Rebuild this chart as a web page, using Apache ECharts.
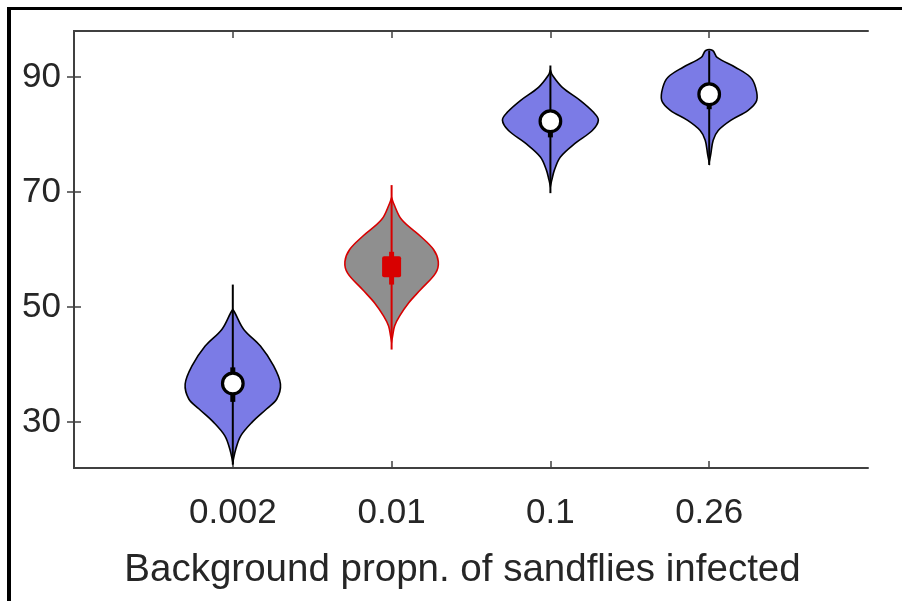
<!DOCTYPE html>
<html><head><meta charset="utf-8">
<script src="https://cdn.jsdelivr.net/npm/echarts@6/dist/echarts.min.js"></script>
<style>html,body{margin:0;padding:0;background:#fff}#c{width:902px;height:601px}</style>
</head><body><div id="c"></div>
<script>
// ---- data ----
const categories = ['0.002', '0.01', '0.1', '0.26'];
const yTickValues = [30, 50, 70, 90];
const medians = [36.7, 57.0, 82.3, 87.0];
const q1 = [33.5, 53.9, 79.5, 84.4];
const q3 = [39.5, 59.6, 83.9, 88.7];
const lowerWhisker = [22.6, 42.6, 69.8, 74.7];
const upperWhisker = [53.9, 71.2, 92.0, 94.6];
// density profiles: [value, half-width in category units]
const density0002 = [[49.6,0],[49.0,0.013],[46.1,0.069],[43.2,0.174],[39.7,0.258],[36.6,0.300],[34.0,0.277],[32.3,0.214],[29.9,0.119],[27.6,0.050],[25.3,0.019],[23.0,0]];
const density001 = [[69.0,0],[68.0,0.013],[65.2,0.063],[62.3,0.182],[60.0,0.264],[57.9,0.294],[55.9,0.277],[53.0,0.182],[50.7,0.107],[48.4,0.050],[46.7,0.019],[44.9,0.006],[44.0,0]];
const density01 = [[91.2,0],[90.3,0.013],[88.2,0.075],[85.9,0.189],[83.9,0.270],[82.5,0.302],[80.7,0.264],[78.5,0.157],[76.1,0.063],[73.8,0.025],[72.1,0.009],[71.0,0]];
const density026 = [[94.6,0.022],[93.4,0.050],[91.7,0.164],[90.0,0.258],[88.2,0.292],[85.9,0.299],[84.2,0.245],[82.5,0.138],[80.7,0.057],[79.0,0.025],[76.4,0.009],[75.2,0]];
const densities = [density0002, density001, density01, density026];
const highlighted = 1; // the red/grey violin

// ---- styles ----
const blueFill = '#7b7be6', greyFill = '#8f8f8f', red = '#d80000', dark = '#000';
const axisColor = '#404040';
const textColor = '#262626';
const fontFamily = 'Liberation Sans, Arial, sans-serif';

const chart = echarts.init(document.getElementById('c'));

function renderViolin(params, api) {
  const i = params.dataIndex;
  const x = api.value(0);
  const prof = densities[i];
  const right = prof.map(p => api.coord([x + p[1], p[0]]));
  const left = prof.slice().reverse().map(p => api.coord([x - p[1], p[0]]));
  const hl = i === highlighted;
  const edge = hl ? red : dark;
  const children = [{
    type: 'polygon',
    shape: { points: right.concat(left), smooth: 0.35 },
    style: { fill: hl ? greyFill : blueFill, stroke: edge, lineWidth: 1.6 }
  }];
  const top = api.coord([x, upperWhisker[i]]);
  const bot = api.coord([x, lowerWhisker[i]]);
  children.push({ type: 'line', shape: { x1: top[0], y1: top[1], x2: bot[0], y2: bot[1] }, style: { stroke: edge, lineWidth: 2 } });
  const a = api.coord([x, q3[i]]), b = api.coord([x, q1[i]]);
  children.push({ type: 'line', shape: { x1: a[0], y1: a[1], x2: b[0], y2: b[1] }, style: { stroke: edge, lineWidth: 5 } });
  const m = api.coord([x, medians[i]]);
  if (hl) {
    children.push({ type: 'rect', shape: { x: m[0] - 9.5, y: m[1] - 10.5, width: 19, height: 21, r: 2 }, style: { fill: red } });
  } else {
    children.push({ type: 'circle', shape: { cx: m[0], cy: m[1], r: 10.3 }, style: { fill: '#fff', stroke: dark, lineWidth: 3.2 } });
  }
  return { type: 'group', children };
}

const tickPos = categories.map((c, i) => i + 1);
const commonAxisLine = { show: true, lineStyle: { color: axisColor, width: 2 } };

chart.setOption({
  animation: false,
  backgroundColor: '#fff',
  grid: { left: 74, right: 34, top: 31, bottom: 133, containLabel: false, outerBoundsMode: 'none' },
  xAxis: [{
    type: 'value', min: 0, max: 5, position: 'bottom',
    axisLine: commonAxisLine,
    axisTick: { show: true, inside: true, length: 7, customValues: tickPos, lineStyle: { color: axisColor, width: 1.5 } },
    axisLabel: { customValues: tickPos, formatter: v => categories[Math.round(v) - 1] || '', color: textColor, fontSize: 35, fontFamily, margin: 28 },
    splitLine: { show: false },
    name: 'Background propn. of sandflies infected', nameLocation: 'middle', nameGap: 83,
    nameTextStyle: { color: textColor, fontSize: 38.5, fontFamily, padding: [0, 17, 0, 0] }
  }, {
    type: 'value', min: 0, max: 5, position: 'top',
    axisLine: commonAxisLine,
    axisTick: { show: true, inside: true, length: 7, customValues: tickPos, lineStyle: { color: axisColor, width: 1.5 } },
    axisLabel: { show: false }, splitLine: { show: false }
  }],
  yAxis: [{
    type: 'value', min: 22, max: 98, position: 'left',
    axisLine: commonAxisLine,
    axisTick: { show: true, inside: true, length: 7, customValues: yTickValues, lineStyle: { color: axisColor, width: 1.5 } },
    axisLabel: { customValues: yTickValues, color: textColor, fontSize: 35, fontFamily, margin: 13 },
    splitLine: { show: false }
  }, {
    type: 'value', min: 22, max: 98, position: 'right',
    axisLine: commonAxisLine,
    axisTick: { show: true, inside: true, length: 7, customValues: yTickValues, lineStyle: { color: axisColor, width: 1.5 } },
    axisLabel: { show: false }, splitLine: { show: false }
  }],
  graphic: [
    { type: 'rect', left: 7, top: 7, shape: { width: 895, height: 3 }, style: { fill: '#000' } },
    { type: 'rect', left: 7, top: 7, shape: { width: 4, height: 594 }, style: { fill: '#000' } }
  ],
  series: [{
    type: 'custom',
    xAxisIndex: 0, yAxisIndex: 0,
    renderItem: renderViolin,
    encode: { x: 0, y: 1 },
    data: categories.map((c, i) => [i + 1, medians[i]]),
    z: 5
  }]
});
</script></body></html>
